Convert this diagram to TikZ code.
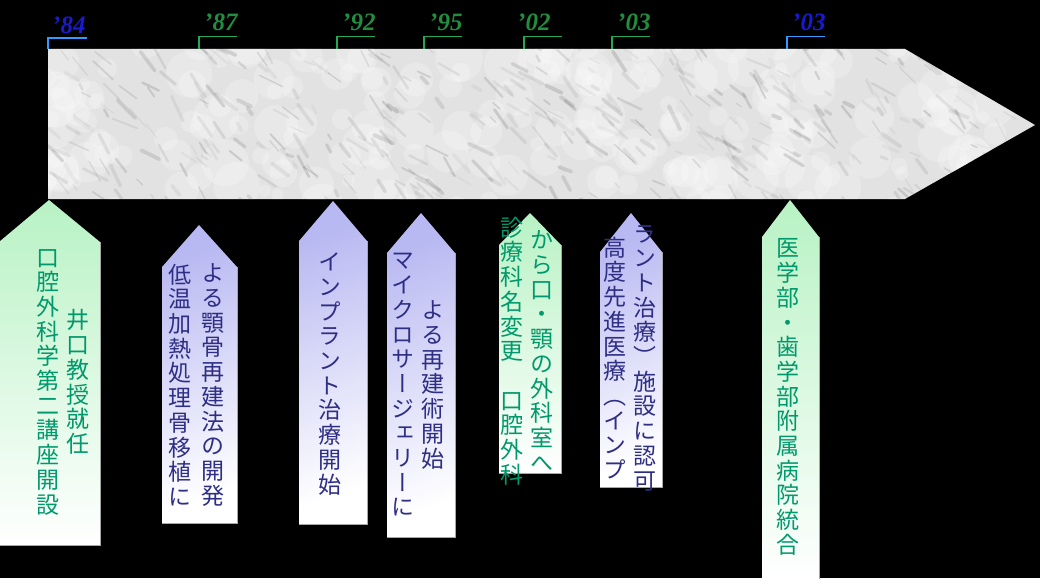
\documentclass[tikz,border=0pt]{standalone}
\usepackage{fontspec}
\newfontfamily\jpfont[RawFeature=+vert]{Noto Sans CJK JP}
\newfontfamily\yrfont{Liberation Serif}
\definecolor{jpgreen}{HTML}{00996B}
\definecolor{jpnavy}{HTML}{2E2E85}
\definecolor{boxgreen}{HTML}{B8F2C4}
\definecolor{boxblue}{HTML}{B8B8F2}
\definecolor{yrgreen}{HTML}{1F8F3F}
\definecolor{yrblue}{HTML}{1A1AD0}
\definecolor{lngreen}{HTML}{22AA55}
\definecolor{lnblue}{HTML}{3399FF}
\definecolor{marble}{HTML}{E2E2E2}
\tikzset{
  yr/.style={font=\yrfont\bfseries\itshape\fontsize{25}{25}\selectfont, inner sep=0pt, anchor=base west},
  yrln/.style={line width=1.3pt},
  jpcol/.style={font=\jpfont\fontsize{23}{24.7}\selectfont, align=center, inner sep=0pt},
  gbox/.style={top color=boxgreen, bottom color=white, draw=none},
  bbox/.style={top color=boxblue, bottom color=white, shading angle=20, draw=none},
  edge/.style={draw=black!35, line width=1pt},
}
\begin{document}
\begin{tikzpicture}[x=1pt,y=-1pt]
\useasboundingbox (0,0) rectangle (1040,578);
\fill[black] (0,0) rectangle (1040,578);

% marble arrow
\begin{scope}
\clip (48,49) -- (905,49) -- (1035,125) -- (905,199) -- (48,199) -- cycle;
\fill[marble] (0,40) rectangle (1040,210);
\pgfmathsetseed{11}
\foreach \i in {1,...,220} {
  \pgfmathsetmacro\xx{40+rnd*1000}
  \pgfmathsetmacro\yy{40+rnd*170}
  \pgfmathsetmacro\rr{6+rnd*18}
  \fill[white, opacity=0.22] (\xx,\yy) circle[radius=\rr];
}
\foreach \i in {1,...,420} {
  \pgfmathsetmacro\xx{40+rnd*1000}
  \pgfmathsetmacro\yy{40+rnd*170}
  \pgfmathsetmacro\ll{6+rnd*22}
  \pgfmathsetmacro\aa{20+rnd*45}
  \pgfmathsetmacro\ww{1+rnd*3}
  \pgfmathsetmacro\oo{0.05+rnd*0.18}
  \draw[line width=\ww pt, draw=black!60, opacity=\oo, line cap=round] (\xx,\yy) -- ++(\aa:\ll);
}
\end{scope}

% year labels
\node[yr, text=yrblue] (y84) at (52,34) {’84};
\node[yr, text=yrgreen] (y87) at (204,31) {’87};
\node[yr, text=yrgreen] (y92) at (342,31) {’92};
\node[yr, text=yrgreen] (y95) at (429,31) {’95};
\node[yr, text=yrgreen] (y02) at (517,31) {’02};
\node[yr, text=yrgreen] (y03a) at (617,31) {’03};
\node[yr, text=yrblue] (y03b) at (792,31) {’03};

\coordinate (h84) at (87,38);   \coordinate (k84) at (48,38);   \coordinate (a84) at (48,49);
\coordinate (h87) at (237,36.5); \coordinate (k87) at (199,36.5); \coordinate (a87) at (199,49);
\coordinate (h92) at (375,36.5); \coordinate (k92) at (337,36.5); \coordinate (a92) at (337,49);
\coordinate (h95) at (462,36.5); \coordinate (k95) at (424,36.5); \coordinate (a95) at (424,49);
\coordinate (h02) at (562,36.5); \coordinate (k02) at (524,36.5); \coordinate (a02) at (524,49);
\coordinate (h03a) at (650,36.5); \coordinate (k03a) at (612,36.5); \coordinate (a03a) at (612,49);
\coordinate (h03b) at (825,36.5); \coordinate (k03b) at (787,36.5); \coordinate (a03b) at (787,49);
\draw[yrln, lnblue] (h84) -- (k84) -- (a84);
\draw[yrln, lngreen] (h87) -- (k87) -- (a87);
\draw[yrln, lngreen] (h92) -- (k92) -- (a92);
\draw[yrln, lngreen] (h95) -- (k95) -- (a95);
\draw[yrln, lngreen] (h02) -- (k02) -- (a02);
\draw[yrln, lngreen] (h03a) -- (k03a) -- (a03a);
\draw[yrln, lnblue] (h03b) -- (k03b) -- (a03b);

% callout boxes
\shade[gbox] (-1,545) -- (-1,242) -- (49,200) -- (100,242) -- (100,545) -- cycle;
\draw[edge] (-1,545) -- (100,545) -- (100,242);
\shade[bbox] (162,523) -- (162,267) -- (199,225) -- (237,267) -- (237,523) -- cycle;
\draw[edge] (162,523) -- (237,523) -- (237,267);
\shade[bbox] (299,524) -- (299,241) -- (333,201) -- (367,241) -- (367,524) -- cycle;
\draw[edge] (299,524) -- (367,524) -- (367,241);
\shade[bbox] (387,537) -- (387,253) -- (421,213) -- (455,253) -- (455,537) -- cycle;
\draw[edge] (387,537) -- (455,537) -- (455,253);
\shade[gbox] (499,473) -- (499,245) -- (530,213) -- (561,245) -- (561,473) -- cycle;
\draw[edge] (499,473) -- (561,473) -- (561,245);
\shade[bbox] (600,487) -- (600,252) -- (631,213) -- (662,252) -- (662,487) -- cycle;
\draw[edge] (600,487) -- (662,487) -- (662,252);
\shade[gbox] (762,580) -- (762,237) -- (790,200) -- (819,237) -- (819,580) -- cycle;
\draw[edge] (819,580) -- (819,237);

% vertical texts
\node[jpcol, text=jpgreen] (t1a) at (48,382) {口\\腔\\外\\科\\学\\第\\二\\講\\座\\開\\設};
\node[jpcol, text=jpgreen] (t1b) at (78,382) {井\\口\\教\\授\\就\\任};
\node[jpcol, text=jpnavy] (t2a) at (180,385) {低\\温\\加\\熱\\処\\理\\骨\\移\\植\\に};
\node[jpcol, text=jpnavy] (t2b) at (213,385) {よ\\る\\顎\\骨\\再\\建\\法\\の\\開\\発};
\node[jpcol, text=jpnavy] (t3) at (330,374) {イ\\ン\\プ\\ラ\\ン\\ト\\治\\療\\開\\始};
\node[jpcol, text=jpnavy] (t4a) at (403,385) {マ\\イ\\ク\\ロ\\サ\\ー\\ジ\\ェ\\リ\\ー\\に};
\node[jpcol, text=jpnavy] (t4b) at (433,385) {よ\\る\\再\\建\\術\\開\\始};
\node[jpcol, text=jpgreen] (t5a) at (512,351) {診\\療\\科\\名\\変\\更\\　\\口\\腔\\外\\科};
\node[jpcol, text=jpgreen] (t5b) at (542,351) {か\\ら\\口\\・\\顎\\の\\外\\科\\室\\へ};
\node[jpcol, text=jpnavy] (t6a) at (615,358) {高\\度\\先\\進\\医\\療\\（\\イ\\ン\\プ};
\node[jpcol, text=jpnavy] (t6b) at (645,358) {ラ\\ン\\ト\\治\\療\\）\\施\\設\\に\\認\\可};
\node[jpcol, text=jpgreen] (t7) at (788,397) {医\\学\\部\\・\\歯\\学\\部\\附\\属\\病\\院\\統\\合};
\end{tikzpicture}
\end{document}
